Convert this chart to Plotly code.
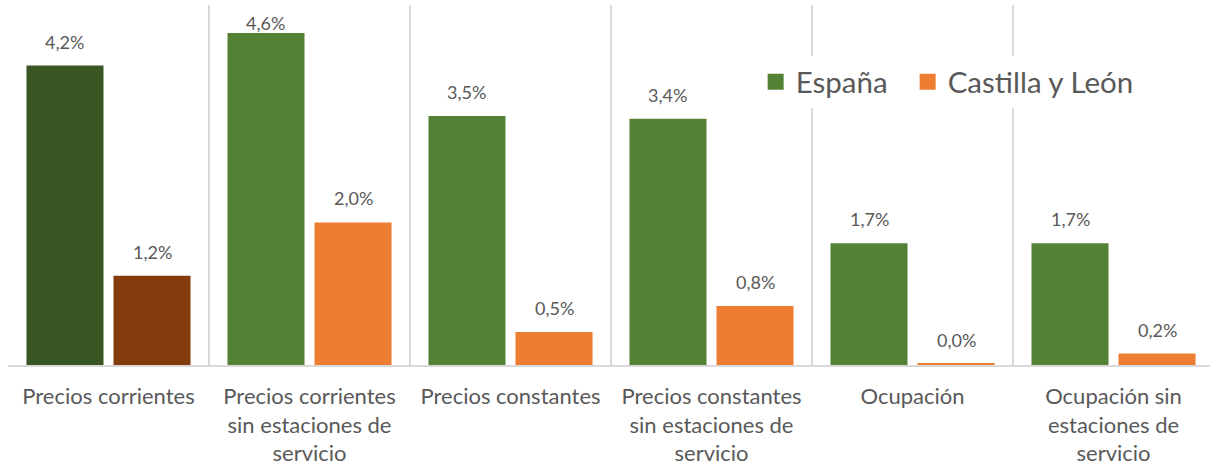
import plotly.graph_objects as go

categories = [
    "Precios corrientes",
    "Precios corrientes<br>sin estaciones de<br>servicio",
    "Precios constantes",
    "Precios constantes<br>sin estaciones de<br>servicio",
    "Ocupación",
    "Ocupación sin<br>estaciones de<br>servicio",
]
espana = [4.16, 4.61, 3.46, 3.42, 1.69, 1.69]
cyl = [1.24, 1.98, 0.46, 0.82, 0.02, 0.16]
espana_labels = ["4,2%", "4,6%", "3,5%", "3,4%", "1,7%", "1,7%"]
cyl_labels = ["1,2%", "2,0%", "0,5%", "0,8%", "0,0%", "0,2%"]
series_names = ["España", "Castilla y León"]

green = "#548235"
green_dark = "#3A5624"
orange = "#ED7D31"
orange_dark = "#843C0C"

esp_colors = [green_dark] + [green] * (len(categories) - 1)
cyl_colors = [orange_dark] + [orange] * (len(categories) - 1)

FONT = "Lato, Open Sans, sans-serif"
TXT = "#595959"

fig = go.Figure()
fig.add_trace(go.Bar(name=series_names[0], x=categories, y=espana, showlegend=False,
                     marker=dict(color=esp_colors, line=dict(width=0))))
fig.add_trace(go.Bar(name=series_names[1], x=categories, y=cyl, showlegend=False,
                     marker=dict(color=cyl_colors, line=dict(width=0))))
# legend entries
legend_names = [series_names[0] + "\u00a0\u00a0", series_names[1]]
for name, col in zip(legend_names, (green, orange)):
    fig.add_trace(go.Scatter(name=name, x=[None], y=[None], mode="markers",
                             marker=dict(symbol="square", size=17, color=col),
                             showlegend=True))

BARGAP = 0.134
BARGROUPGAP = 0.115
half = (1 - BARGAP) / 4  # centre offset of each bar in a pair

YMAX = 5.0
offset = 0.333
top_cap = 4.75
annotations = []
for i, c in enumerate(categories):
    for v, lab, shift in ((espana[i], espana_labels[i], -half), (cyl[i], cyl_labels[i], half)):
        annotations.append(dict(
            x=i + shift, y=min(v + offset, top_cap), xref="x", yref="y",
            text=lab, showarrow=False, yanchor="middle", xanchor="center",
            font=dict(family=FONT, size=18, color=TXT)))

fig.update_layout(
    width=1210, height=467,
    margin=dict(l=8, r=0, t=5, b=102),
    paper_bgcolor="white", plot_bgcolor="white",
    barmode="group", bargap=BARGAP, bargroupgap=BARGROUPGAP,
    showlegend=True,
    legend=dict(orientation="h", x=0.622, y=0.786, xanchor="left", yanchor="middle",
                bgcolor="white", font=dict(family=FONT, size=29.5, color=TXT),
                traceorder="normal"),
    annotations=annotations,
    xaxis=dict(type="category", tickson="boundaries", showgrid=True,
               gridcolor="#D9D9D9", gridwidth=1.5, showline=True,
               linecolor="#D9D9D9", linewidth=1.5, ticks="",
               tickfont=dict(family=FONT, size=22, color=TXT),
               ticklabelstandoff=11, range=[-0.5, 5.48]),
    yaxis=dict(range=[0, YMAX], showgrid=False, showticklabels=False,
               zeroline=False, showline=False),
)

fig.write_html("out.html", config={"displayModeBar": False},
               post_script="document.body.style.margin='0';document.body.style.padding='0';")
